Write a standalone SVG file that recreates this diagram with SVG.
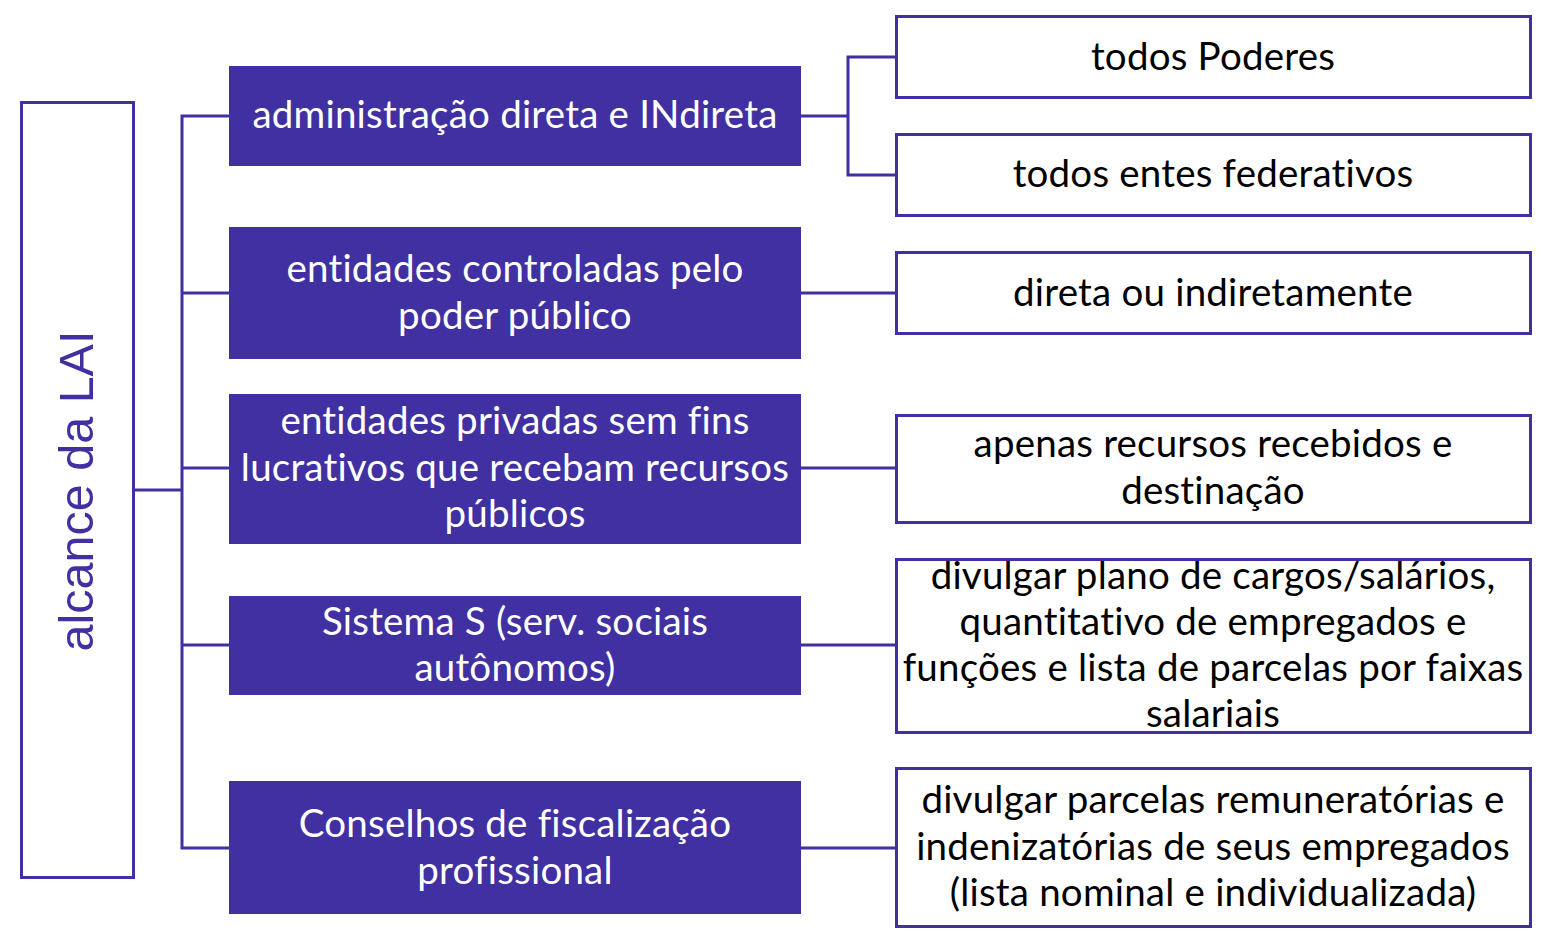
<svg xmlns="http://www.w3.org/2000/svg" width="1548" height="941" viewBox="0 0 1548 941">
<style>
.pbox{fill:#4130A1;}
.wbox{fill:#fff;stroke:#4130A1;stroke-width:3;}
.conn{fill:none;stroke:#4130A1;stroke-width:3;stroke-linecap:square;}
.wt,.bt{font-family:Lato,"Noto Sans",sans-serif;font-size:38.5px;letter-spacing:0.2px;text-anchor:middle;font-variant-ligatures:none;}
.wt{fill:#fff;}
.bt{fill:#000;}
.vt{font-family:"Liberation Sans",Arial,sans-serif;font-size:48.5px;fill:#4130A1;text-anchor:middle;}
</style>
<rect width="1548" height="941" fill="#fff"/>
<g id="connectors">
<path class="conn" d="M134,490 H182 M182,116 V848 M182,116 H229 M182,293 H229 M182,468 H229 M182,645 H229 M182,848 H229"/>
<path class="conn" d="M801,116 H848 M896,57 H848 V175 H896"/>
<path class="conn" d="M801,293 H896 M801,468 H896 M801,645 H896 M801,848 H896"/>
</g>
<g id="root">
<rect class="wbox" x="21.5" y="102.5" width="112" height="775"/>
<text class="vt" transform="translate(93,491) rotate(-90)">alcance da LAI</text>
</g>
<g id="n1">
<rect class="pbox" x="229" y="66" width="572" height="100"/>
<text class="wt" x="515" y="128">administração direta e INdireta</text>
</g>
<g id="n2">
<rect class="pbox" x="229" y="227" width="572" height="132"/>
<text class="wt" x="515" y="282">entidades controladas pelo</text>
<text class="wt" x="515" y="329">poder público</text>
</g>
<g id="n3">
<rect class="pbox" x="229" y="394" width="572" height="150"/>
<text class="wt" x="515" y="434">entidades privadas sem fins</text>
<text class="wt" x="515" y="481">lucrativos que recebam recursos</text>
<text class="wt" x="515" y="527">públicos</text>
</g>
<g id="n4">
<rect class="pbox" x="229" y="596" width="572" height="99"/>
<text class="wt" x="515" y="635">Sistema S (serv. sociais</text>
<text class="wt" x="515" y="681">autônomos)</text>
</g>
<g id="n5">
<rect class="pbox" x="229" y="781" width="572" height="133"/>
<text class="wt" x="515" y="837">Conselhos de fiscalização</text>
<text class="wt" x="515" y="884">profissional</text>
</g>
<g id="r1">
<rect class="wbox" x="896.5" y="16.5" width="634" height="81"/>
<text class="bt" x="1213" y="70">todos Poderes</text>
</g>
<g id="r2">
<rect class="wbox" x="896.5" y="134.5" width="634" height="81"/>
<text class="bt" x="1213" y="187">todos entes federativos</text>
</g>
<g id="r3">
<rect class="wbox" x="896.5" y="252.5" width="634" height="81"/>
<text class="bt" x="1213" y="306">direta ou indiretamente</text>
</g>
<g id="r4">
<rect class="wbox" x="896.5" y="415.5" width="634" height="107"/>
<text class="bt" x="1213" y="457">apenas recursos recebidos e</text>
<text class="bt" x="1213" y="504">destinação</text>
</g>
<g id="r5">
<rect class="wbox" x="896.5" y="559.5" width="634" height="173"/>
<text class="bt" x="1213" y="589">divulgar plano de cargos/salários,</text>
<text class="bt" x="1213" y="635">quantitativo de empregados e</text>
<text class="bt" x="1213" y="681">funções e lista de parcelas por faixas</text>
<text class="bt" x="1213" y="727">salariais</text>
</g>
<g id="r6">
<rect class="wbox" x="896.5" y="768.5" width="634" height="158"/>
<text class="bt" x="1213" y="813">divulgar parcelas remuneratórias e</text>
<text class="bt" x="1213" y="860">indenizatórias de seus empregados</text>
<text class="bt" x="1213" y="906">(lista nominal e individualizada)</text>
</g>
</svg>
